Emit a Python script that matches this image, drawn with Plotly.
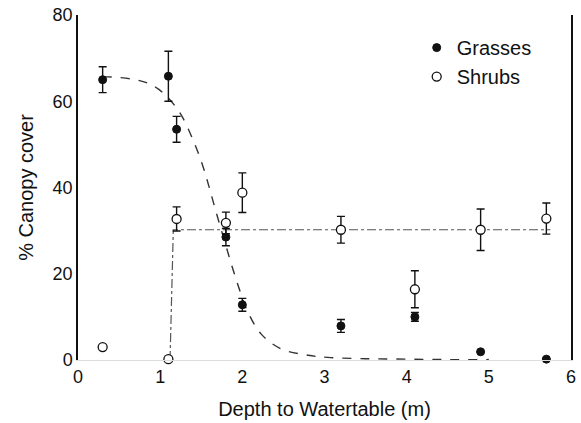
import plotly.graph_objects as go

# Measured points
depth = [0.3, 1.1, 1.2, 1.8, 2.0, 3.2, 4.1, 4.9, 5.7]
grass_cover = [65.0, 65.8, 53.5, 28.5, 12.8, 7.9, 10.0, 1.9, 0.2]
grass_err = [3.0, 5.8, 3.0, 2.0, 1.5, 1.5, 1.0, 0.0, 0.0]
shrub_cover = [3.0, 0.2, 32.7, 31.8, 38.8, 30.2, 16.4, 30.2, 32.8]
shrub_err = [0.0, 0.0, 2.8, 2.5, 4.6, 3.1, 4.3, 4.8, 3.6]

# Fitted curves
grass_fit_x = [0.3, 0.5, 0.7, 0.85, 0.98, 1.11, 1.25, 1.39, 1.51, 1.59, 1.67, 1.77,
               1.87, 1.98, 2.07, 2.23, 2.47, 2.8, 3.04, 3.5, 4.0, 4.5, 5.0]
grass_fit_y = [65.7, 65.5, 65.0, 64.2, 62.8, 60.5, 57.0, 51.5, 45.5, 40.5, 35.0, 28.5,
               22.0, 15.5, 11.0, 6.0, 2.6, 1.1, 0.6, 0.3, 0.2, 0.1, 0.1]
shrub_fit_x = [1.12, 1.16, 5.75]
shrub_fit_y = [0.0, 30.2, 30.2]

x_ticks = [0, 1, 2, 3, 4, 5, 6]
y_ticks = [0, 20, 40, 60, 80]

FONT = "Liberation Sans, Arial, sans-serif"

fig = go.Figure()

fig.add_trace(go.Scatter(
    x=grass_fit_x, y=grass_fit_y, mode="lines", line_shape="spline",
    line=dict(color="#333333", width=1.4, dash="dash"),
    showlegend=False, hoverinfo="skip"))

fig.add_trace(go.Scatter(
    x=shrub_fit_x, y=shrub_fit_y, mode="lines",
    line=dict(color="#555555", width=1.2, dash="dashdot"),
    showlegend=False, hoverinfo="skip"))

fig.add_trace(go.Scatter(
    x=depth, y=grass_cover, mode="markers", name="Grasses",
    marker=dict(symbol="circle", size=8, color="#111111",
                line=dict(color="#111111", width=1)),
    error_y=dict(type="data", array=grass_err, visible=True,
                 color="#111111", thickness=1.4, width=4),
    cliponaxis=False))

fig.add_trace(go.Scatter(
    x=depth, y=shrub_cover, mode="markers", name="Shrubs",
    marker=dict(symbol="circle", size=9, color="white",
                line=dict(color="#111111", width=1.3)),
    error_y=dict(type="data", array=shrub_err, visible=True,
                 color="#111111", thickness=1.4, width=4),
    cliponaxis=False))

fig.update_layout(
    width=581, height=423,
    margin=dict(l=78, r=5, t=15, b=63),
    plot_bgcolor="white", paper_bgcolor="white",
    font=dict(family=FONT, size=18, color="#111111"),
    showlegend=True,
    legend=dict(x=0.687, y=0.962, xanchor="left", yanchor="top",
                bgcolor="rgba(0,0,0,0)", font=dict(size=20, family=FONT)),
    xaxis=dict(range=[0, 6], tickvals=x_ticks, ticktext=[str(v) for v in x_ticks],
               showgrid=False, zeroline=False, showline=True,
               linecolor="#dddddd", linewidth=1, ticks="",
               tickfont=dict(size=18),
               title=dict(text="Depth to Watertable (m)", font=dict(size=20), standoff=16)),
    yaxis=dict(range=[0, 80], tickvals=y_ticks, ticktext=[str(v) for v in y_ticks],
               showgrid=False, zeroline=False, showline=True, mirror=True,
               linecolor="#111111", linewidth=1.5, ticks="",
               tickfont=dict(size=18),
               title=dict(text="% Canopy cover", font=dict(size=20), standoff=14)),
)

fig.write_html("out.html")
